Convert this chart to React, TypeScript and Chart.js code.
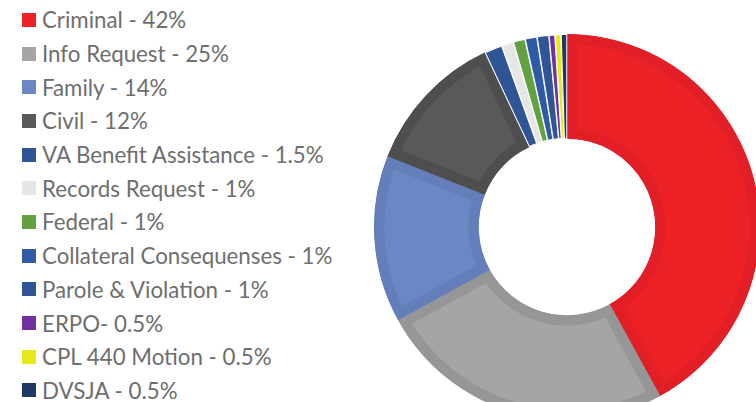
import React, { useEffect, useRef } from "react";
import { Chart, registerables } from "chart.js";

Chart.register(...registerables);

const categories = [
  "Criminal",
  "Info Request",
  "Family",
  "Civil",
  "VA Benefit Assistance",
  "Records Request",
  "Federal",
  "Collateral Consequenses",
  "Parole & Violation",
  "ERPO",
  "CPL 440 Motion",
  "DVSJA",
];
const values = [42, 25, 14, 12, 1.5, 1, 1, 1, 1, 0.5, 0.5, 0.5];
const legendLabels = [
  "Criminal - 42%",
  "Info Request - 25%",
  "Family - 14%",
  "Civil - 12%",
  "VA Benefit Assistance - 1.5%",
  "Records Request - 1%",
  "Federal - 1%",
  "Collateral Consequenses - 1%",
  "Parole & Violation - 1%",
  "ERPO- 0.5%",
  "CPL 440 Motion - 0.5%",
  "DVSJA - 0.5%",
];
const fillColors = [
  "#EC2227",
  "#A5A5A5",
  "#6D87C4",
  "#595959",
  "#2F5597",
  "#E7E6E6",
  "#62A040",
  "#2F5BA6",
  "#2F5597",
  "#7030A0",
  "#E8E81A",
  "#203864",
];
const borderColors = [
  "#E21F26",
  "#969696",
  "#637EB9",
  "#4E4E4E",
  "#FFFFFF",
  "#FFFFFF",
  "#FFFFFF",
  "#FFFFFF",
  "#FFFFFF",
  "#FFFFFF",
  "#FFFFFF",
  "#FFFFFF",
];
const borderWidths = [10, 10, 10, 10, 0.75, 0.75, 0.75, 0.75, 0.75, 0.75, 0.75, 0.75];

export default function App() {
  const canvasRef = useRef<HTMLCanvasElement | null>(null);

  useEffect(() => {
    if (!canvasRef.current) return;
    const chart = new Chart(canvasRef.current, {
      type: "doughnut",
      data: {
        labels: categories,
        datasets: [
          {
            data: values,
            backgroundColor: fillColors,
            borderColor: borderColors,
            borderWidth: borderWidths,
            borderAlign: "inner",
            hoverOffset: 0,
          },
        ],
      },
      options: {
        responsive: false,
        animation: false,
        radius: 193,
        cutout: 96,
        layout: { padding: 0 },
        plugins: {
          legend: { display: false },
          tooltip: { enabled: false },
        },
      },
    });
    return () => chart.destroy();
  }, []);

  return (
    <div
      style={{
        position: "fixed",
        left: 0,
        top: 0,
        width: 756,
        height: 402,
        overflow: "hidden",
        background: "#ffffff",
      }}
    >
      <canvas
        ref={canvasRef}
        width={420}
        height={420}
        style={{ position: "absolute", left: 357, top: 17, width: 420, height: 420 }}
      />
      <div
        style={{
          position: "absolute",
          left: 22,
          top: 3,
          fontFamily: "Lato, 'Open Sans', sans-serif",
          fontSize: 22.3,
          color: "#6E6E6E",
        }}
      >
        {legendLabels.map((label, i) => (
          <div
            key={label}
            style={{ display: "flex", alignItems: "center", height: 33.7, whiteSpace: "nowrap" }}
          >
            <span
              style={{
                display: "inline-block",
                width: 14,
                height: 14,
                background: fillColors[i],
                marginRight: 6,
                flex: "none",
              }}
            />
            <span>{label}</span>
          </div>
        ))}
      </div>
    </div>
  );
}
